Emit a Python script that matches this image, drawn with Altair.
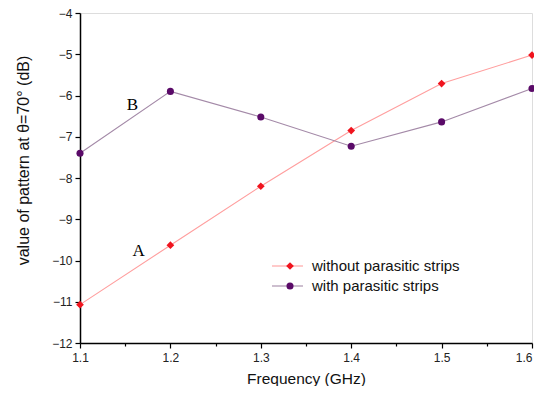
import altair as alt
import pandas as pd

freq = [1.1, 1.2, 1.3, 1.4, 1.5, 1.6]
without_strips = [-11.07, -9.63, -8.20, -6.85, -5.71, -5.02]
with_strips = [-7.40, -5.90, -6.52, -7.23, -6.64, -5.83]
series_names = ["without parasitic strips", "with parasitic strips"]
x_ticks = [1.1, 1.15, 1.2, 1.25, 1.3, 1.35, 1.4, 1.45, 1.5, 1.55, 1.6]
y_ticks = [-12, -11.5, -11, -10.5, -10, -9.5, -9, -8.5, -8, -7.5, -7, -6.5,
           -6, -5.5, -5, -4.5, -4]
annot_text = ["A", "B"]
annot_x = [1.165, 1.158]
annot_y = [-9.77, -6.23]

W, H = 452, 330
FONT = "Liberation Sans"

line_colors = ["#ff9e9e", "#a48aa8"]
mark_colors = ["#f0141e", "#5a0a68"]
shapes = ["diamond", "circle"]
sizes = [60, 50]

df = pd.DataFrame({
    "freq": freq * 2,
    "value": without_strips + with_strips,
    "series": [series_names[0]] * len(freq) + [series_names[1]] * len(freq),
})
ann = pd.DataFrame({"t": annot_text, "x": annot_x, "y": annot_y})

xaxis = alt.Axis(
    values=x_ticks, title="Frequency (GHz)", grid=False,
    labelExpr="round(datum.value*20) % 2 == 0 ? format(datum.value, '.1f') : ''",
    tickSize={"condition": {"test": "round(datum.value*20) % 2 == 0", "value": 5}, "value": 3},
    labelAlign={"condition": {"test": "datum.value > 1.58", "value": "right"}, "value": "center"},
    labelFontSize=12, titleFontSize=15.5, labelFont=FONT, titleFont=FONT,
    titleFontWeight="normal", labelColor="#222", titleColor="#111",
    domainColor="#000", tickColor="#000", domainWidth=1.5, tickWidth=1.2,
    labelPadding=4, titlePadding=8, labelFlush=False,
)
yaxis = alt.Axis(
    values=y_ticks, title="value of  pattern at θ=70°  (dB)", grid=False,
    labelExpr="datum.value % 1 == 0 ? format(datum.value, 'd') : ''",
    tickSize={"condition": {"test": "datum.value % 1 == 0", "value": 5}, "value": 3},
    labelFontSize=12, titleFontSize=16, labelFont=FONT, titleFont=FONT,
    titleFontWeight="normal", labelColor="#222", titleColor="#111",
    domainColor="#000", tickColor="#000", domainWidth=1.5, tickWidth=1.2,
    labelPadding=3, titleX=-57, titleY=147, titleBaseline="middle", labelFlush=False,
)

X = alt.X("freq:Q", scale=alt.Scale(domain=[1.1, 1.6], nice=False, zero=False), axis=xaxis)
Y = alt.Y("value:Q", scale=alt.Scale(domain=[-12, -4], nice=False, zero=False), axis=yaxis)

layers = []
for i, name in enumerate(series_names):
    base = alt.Chart(df).transform_filter(alt.datum.series == name)
    layers.append(base.mark_line(color=line_colors[i], strokeWidth=1.1).encode(x=X, y=Y))
for i, name in enumerate(series_names):
    base = alt.Chart(df).transform_filter(alt.datum.series == name)
    layers.append(base.mark_point(shape=shapes[i], filled=True, color=mark_colors[i],
                                  size=sizes[i], opacity=1).encode(x=X, y=Y))

layers.append(alt.Chart(ann).mark_text(font="Liberation Serif", fontSize=17, color="#000").encode(
    x=alt.X("x:Q"), y=alt.Y("y:Q"), text="t:N"))

# manual legend
one = alt.Data(values=[{}])
for i, name in enumerate(series_names):
    ly = 253 + 20 * i
    layers.append(alt.Chart(one).mark_rule(color=line_colors[i], strokeWidth=1.1).encode(
        x=alt.value(192), x2=alt.value(223), y=alt.value(ly)))
    layers.append(alt.Chart(one).mark_point(shape=shapes[i], filled=True, color=mark_colors[i],
                                            size=sizes[i], opacity=1).encode(
        x=alt.value(210), y=alt.value(ly)))
    layers.append(alt.Chart(one).mark_text(align="left", baseline="middle", font=FONT,
                                           fontSize=15, color="#111").encode(
        x=alt.value(232), y=alt.value(ly), text=alt.value(name)))

chart = alt.layer(*layers).properties(
    width=W, height=H,
    padding={"left": 72, "top": 5, "right": 2, "bottom": 43},
    autosize=alt.AutoSizeParams(type="none"),
).configure_view(stroke=None).configure(background="white")

chart.save("out.html", embed_options={"renderer": "svg", "actions": False})
